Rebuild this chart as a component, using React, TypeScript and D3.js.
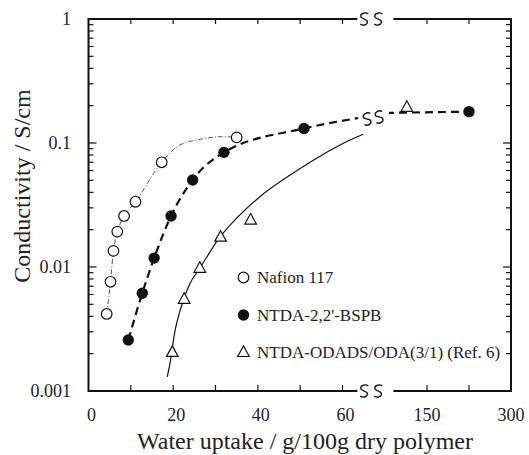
import React from 'react';
import * as d3 from 'd3';

// values: [water uptake, conductivity S/cm]
const nafion = [
  [4.3, 0.00418], [5.2, 0.0076], [5.9, 0.0135], [6.8, 0.0193],
  [8.4, 0.0258], [11.1, 0.0336], [17.3, 0.0699], [35.0, 0.111],
];
const nafionFit = [
  [4.3, 0.00418], [5.2, 0.0076], [5.9, 0.0135], [6.8, 0.0193], [8.4, 0.0258],
  [11.1, 0.0336], [17.3, 0.0699], [21.6, 0.0964], [26.3, 0.107], [31.1, 0.1124], [35.0, 0.111],
];
const bspb = [
  [9.4, 0.00258], [12.7, 0.00614], [15.5, 0.0118], [19.5, 0.0258],
  [24.6, 0.0503], [32.0, 0.0841], [50.9, 0.131],
];
const bspbTail = [[63.7, 0.159]];
const bspbHigh = [[225, 0.179]];
const bspbHighLine = [[82, 0.175], [225, 0.179]];
const odads = [
  [19.8, 0.00205], [22.6, 0.00549], [26.3, 0.00976], [31.2, 0.0174], [38.3, 0.0239],
];
const odadsHigh = [[114, 0.194]];
const odadsFit = [
  [18.6, 0.0013], [19.25, 0.00167], [20.8, 0.0035], [24.0, 0.0074], [26.3, 0.0098],
  [29.5, 0.0146], [31.1, 0.0176], [40.5, 0.0369], [53.9, 0.0753],
  [60.2, 0.0995], [64.9, 0.1175],
];

const yMajor = [1, 0.1, 0.01, 0.001];
const yMajorLabels = ['1', '0.1', '0.01', '0.001'];
const xLowTicks = [10, 20, 30, 40, 50, 60];
const xLowLabels = [0, 20, 40, 60];
const xHighTicks = [150, 225];
const xHighLabels = [150, 300];
const legendItems = ['Nafion 117', 'NTDA-2,2\'-BSPB', 'NTDA-ODADS/ODA(3/1) (Ref. 6)'];

const font = "'Liberation Serif', 'DejaVu Serif', 'Times New Roman', serif";
const W = 529;
const H = 455;

const x = d3.scaleLinear().domain([0, 60]).range([88.5, 342.5]);
const xHi = d3.scaleLinear().domain([150, 300]).range([427, 511]);
const y = d3.scaleLog().domain([0.001, 1]).range([391, 19]);

const breakL = x(63.5);
const breakR = xHi(90);

const tri = 'M0,-6.5L5.8,4L-5.8,4Z';

// little "s" glyph of the axis break
const sMark = (cx: number, cy: number) =>
  `M${cx + 4},${cy - 5} C${cx + 1},${cy - 7.5} ${cx - 5.5},${cy - 5} ${cx - 3},${cy - 1.5} ` +
  `L${cx + 2.5},${cy + 1.5} C${cx + 5},${cy + 5} ${cx - 1},${cy + 7.5} ${cx - 4},${cy + 5}`;

export default function App() {
  const lineLo = d3.line<number[]>().x((d) => x(d[0])).y((d) => y(d[1])).curve(d3.curveMonotoneX);
  const fitLine = d3.line<number[]>().x((d) => x(d[0])).y((d) => y(d[1])).curve(d3.curveCatmullRom.alpha(0.5));
  const lineHi = d3.line<number[]>().x((d) => xHi(d[0])).y((d) => y(d[1]));

  const yMinor: number[] = [];
  [0.001, 0.01, 0.1].forEach((dec) => {
    for (let k = 2; k <= 9; k++) yMinor.push(dec * k);
  });

  const left = x(0);
  const right = xHi(300);
  const top = y(1);
  const bottom = y(0.001);
  const txt = { fontFamily: font };

  return (
    <svg width={W} height={H} style={{ position: 'absolute', left: 0, top: 0, background: '#fff' }}>
      {/* frame */}
      <g stroke="#111" strokeWidth={2} fill="none">
        <line x1={left} y1={top - 1} x2={left} y2={bottom + 1} />
        <line x1={right} y1={top - 1} x2={right} y2={bottom + 1} />
        <line x1={left} y1={top} x2={breakL} y2={top} />
        <line x1={breakR} y1={top} x2={right} y2={top} />
        <line x1={left} y1={bottom} x2={breakL} y2={bottom} />
        <line x1={breakR} y1={bottom} x2={right} y2={bottom} />
      </g>
      {/* break marks */}
      <g stroke="#111" strokeWidth={1.4} fill="none">
        {[top, bottom].map((yy) => (
          <g key={yy}>
            <path d={sMark(breakL + 7, yy)} />
            <path d={sMark(breakL + 21, yy)} />
          </g>
        ))}
        <path d={sMark(breakL + 10, 119)} transform={`rotate(-12 ${breakL + 10} 119)`} />
        <path d={sMark(breakL + 22, 117)} transform={`rotate(-12 ${breakL + 22} 117)`} />
      </g>
      {/* ticks */}
      <g stroke="#111" strokeWidth={1.2}>
        {yMajor.map((v) => (
          <g key={v}>
            <line x1={left} x2={left + 8} y1={y(v)} y2={y(v)} />
            <line x1={right} x2={right - 8} y1={y(v)} y2={y(v)} />
          </g>
        ))}
        {yMinor.map((v) => (
          <g key={v}>
            <line x1={left} x2={left + 5} y1={y(v)} y2={y(v)} />
            <line x1={right} x2={right - 5} y1={y(v)} y2={y(v)} />
          </g>
        ))}
        {xLowTicks.map((v) => (
          <g key={v}>
            <line x1={x(v)} x2={x(v)} y1={bottom} y2={bottom - 6} />
            <line x1={x(v)} x2={x(v)} y1={top} y2={top + 5} />
          </g>
        ))}
        {xHighTicks.map((v) => (
          <g key={v}>
            <line x1={xHi(v)} x2={xHi(v)} y1={bottom} y2={bottom - 6} />
            <line x1={xHi(v)} x2={xHi(v)} y1={top} y2={top + 5} />
          </g>
        ))}
      </g>
      {/* tick labels */}
      <g style={txt} fontSize={18} fill="#222">
        {yMajor.map((v, i) => (
          <text key={v} x={71} y={y(v)} dy="0.35em" textAnchor="end" style={txt}>{yMajorLabels[i]}</text>
        ))}
        {xLowLabels.map((v) => (
          <text key={v} x={x(v) + 3} y={421} textAnchor="middle" style={txt}>{v}</text>
        ))}
        {xHighLabels.map((v) => (
          <text key={v} x={xHi(v)} y={421} textAnchor="middle" style={txt}>{v}</text>
        ))}
      </g>
      {/* axis titles */}
      <text x={305} y={449} textAnchor="middle" style={txt} fontSize={24} fill="#222">
        Water uptake / g/100g dry polymer
      </text>
      <text transform="translate(30,186) rotate(-90)" textAnchor="middle" style={txt} fontSize={24} fill="#222">
        Conductivity / S/cm
      </text>
      {/* curves */}
      <path d={fitLine(nafionFit) ?? ''} fill="none" stroke="#444" strokeWidth={0.9} strokeDasharray="5,2,1,2" />
      <path d={lineLo([...bspb, ...bspbTail]) ?? ''} fill="none" stroke="#111" strokeWidth={2.2} strokeDasharray="8,5" />
      <path d={lineHi(bspbHighLine) ?? ''} fill="none" stroke="#111" strokeWidth={2.2} strokeDasharray="8,5" strokeDashoffset={3} />
      <path d={fitLine(odadsFit) ?? ''} fill="none" stroke="#111" strokeWidth={1.2} />
      {/* markers */}
      {nafion.map((d, i) => (
        <circle key={i} cx={x(d[0])} cy={y(d[1])} r={5.3} fill="#fff" stroke="#111" strokeWidth={1.2} />
      ))}
      {bspb.map((d, i) => (
        <circle key={i} cx={x(d[0])} cy={y(d[1])} r={5.7} fill="#111" />
      ))}
      {bspbHigh.map((d, i) => (
        <circle key={i} cx={xHi(d[0])} cy={y(d[1])} r={5.7} fill="#111" />
      ))}
      {odads.map((d, i) => (
        <path key={i} d={tri} transform={`translate(${x(d[0])},${y(d[1])})`} fill="#fff" stroke="#111" strokeWidth={1.2} />
      ))}
      {odadsHigh.map((d, i) => (
        <path key={i} d={tri} transform={`translate(${xHi(d[0])},${y(d[1])})`} fill="#fff" stroke="#111" strokeWidth={1.2} />
      ))}
      {/* legend */}
      <g style={txt} fontSize={17} fill="#222">
        {legendItems.map((label, i) => {
          const cy = 277.5 + i * 37.5;
          return (
            <g key={label}>
              {i === 0 && <circle cx={243.5} cy={cy} r={5.3} fill="#fff" stroke="#111" strokeWidth={1.2} />}
              {i === 1 && <circle cx={243.5} cy={cy} r={5.7} fill="#111" />}
              {i === 2 && <path d={tri} transform={`translate(243.5,${cy})`} fill="#fff" stroke="#111" strokeWidth={1.2} />}
              <text x={257} y={cy + 5.5} stroke="none" style={txt}>{label}</text>
            </g>
          );
        })}
      </g>
    </svg>
  );
}
